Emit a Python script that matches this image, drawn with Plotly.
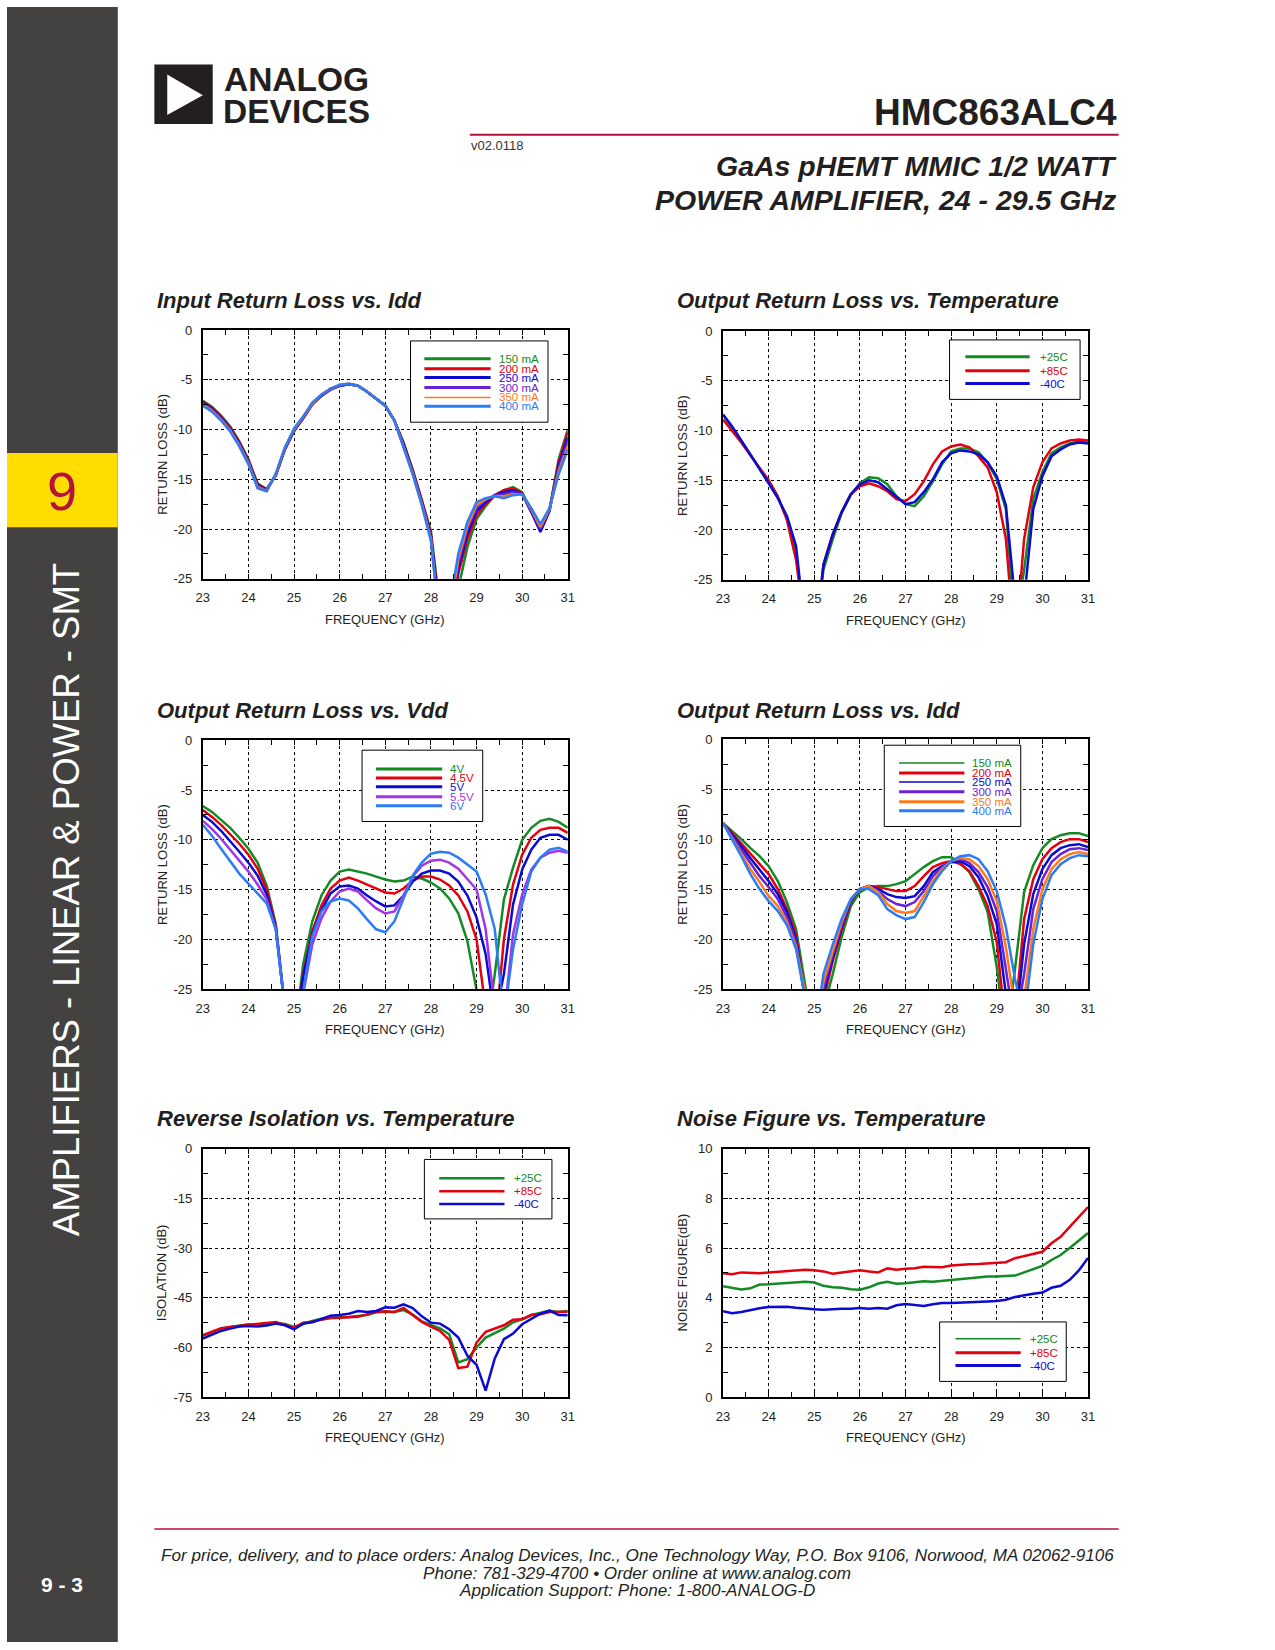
import plotly.graph_objects as go

# page size in px
W, H = 1275, 1650

# frequency points (GHz)
freq = [23.0, 23.2, 23.4, 23.6, 23.8, 24.0, 24.2, 24.4, 24.6, 24.8,
        25.0, 25.2, 25.4, 25.6, 25.8, 26.0, 26.2, 26.4, 26.6, 26.8,
        27.0, 27.2, 27.4, 27.6, 27.8, 28.0, 28.2, 28.4, 28.6, 28.8,
        29.0, 29.2, 29.4, 29.6, 29.8, 30.0, 30.2, 30.4, 30.6, 30.8, 31.0]

# Input Return Loss vs. Idd (dB)
irl_150 = [-7.1, -7.7, -8.6, -9.7, -11.2, -13.0, -15.4, -16.0, -14.6, -12.0, -10.2, -8.9, -7.5, -6.6, -6.0, -5.6, -5.45, -5.6, -6.2, -6.9, -7.6, -9.1, -11.3, -14.0, -17.0, -20.2, -28.0, -32.0, -26.0, -21.8, -19.0, -17.7, -16.6, -16.1, -15.8, -16.3, -18.2, -20.1, -18.0, -13.0, -10.0]
irl_200 = [-7.2, -7.8, -8.7, -9.8, -11.3, -13.1, -15.5, -16.0, -14.6, -12.0, -10.1, -8.9, -7.5, -6.6, -6.0, -5.6, -5.45, -5.6, -6.2, -6.9, -7.6, -9.1, -11.4, -14.1, -17.1, -20.5, -28.5, -32.0, -24.5, -21.0, -18.6, -17.5, -16.6, -16.1, -15.9, -16.4, -18.2, -20.1, -18.1, -13.3, -10.3]
irl_250 = [-7.3, -7.9, -8.8, -9.9, -11.4, -13.2, -15.6, -16.1, -14.6, -11.9, -10.1, -8.8, -7.4, -6.6, -5.9, -5.6, -5.45, -5.6, -6.2, -6.9, -7.6, -9.1, -11.5, -14.2, -17.3, -20.7, -29.0, -31.0, -24.0, -20.5, -18.2, -17.3, -16.6, -16.3, -16.1, -16.5, -18.3, -20.3, -18.2, -13.6, -10.8]
irl_300 = [-7.4, -8.0, -8.9, -10.0, -11.5, -13.3, -15.7, -16.1, -14.5, -11.9, -10.0, -8.8, -7.4, -6.5, -5.9, -5.6, -5.4, -5.6, -6.2, -6.9, -7.6, -9.1, -11.6, -14.3, -17.4, -20.9, -29.5, -30.0, -23.5, -20.0, -17.9, -17.1, -16.6, -16.5, -16.3, -16.5, -18.2, -20.0, -18.0, -13.9, -11.2]
irl_350 = [-7.5, -8.1, -9.0, -10.1, -11.6, -13.4, -15.8, -16.2, -14.5, -11.8, -10.0, -8.7, -7.4, -6.5, -5.9, -5.5, -5.4, -5.6, -6.2, -6.9, -7.6, -9.1, -11.7, -14.4, -17.5, -21.0, -30.0, -29.0, -23.0, -19.7, -17.6, -17.0, -16.7, -16.7, -16.5, -16.5, -18.0, -19.8, -18.0, -14.2, -11.7]
irl_400 = [-7.6, -8.2, -9.1, -10.2, -11.7, -13.5, -15.9, -16.2, -14.4, -11.8, -9.9, -8.7, -7.3, -6.5, -5.9, -5.5, -5.4, -5.6, -6.2, -6.9, -7.6, -9.1, -11.8, -14.5, -17.6, -21.2, -30.0, -28.0, -22.5, -19.3, -17.3, -16.9, -16.7, -16.9, -16.6, -16.5, -17.9, -19.5, -17.9, -14.5, -12.0]

# Output Return Loss vs. Temperature (dB)
ort_p25 = [-8.4, -9.7, -11.0, -12.4, -13.8, -15.2, -16.7, -18.8, -22.3, -30.0, -32.0, -24.0, -21.0, -18.3, -16.5, -15.3, -14.7, -14.8, -15.4, -16.6, -17.4, -17.6, -16.6, -15.1, -13.4, -12.1, -11.8, -11.8, -12.2, -13.2, -14.9, -17.9, -30.0, -24.0, -16.9, -14.2, -12.3, -11.7, -11.3, -11.1, -11.2]
ort_p85 = [-8.9, -10.0, -11.2, -12.5, -13.8, -15.0, -16.6, -19.0, -23.0, -30.0, -32.0, -23.5, -20.5, -18.2, -16.4, -15.6, -15.3, -15.6, -16.1, -16.9, -17.1, -16.4, -15.1, -13.4, -12.1, -11.6, -11.4, -11.7, -12.6, -13.7, -16.2, -20.9, -32.0, -20.9, -15.7, -13.2, -11.8, -11.3, -11.0, -10.9, -11.0]
ort_m40 = [-8.4, -9.6, -11.0, -12.4, -13.9, -15.3, -16.8, -18.6, -21.6, -30.0, -32.0, -23.5, -20.5, -18.2, -16.4, -15.4, -15.0, -15.2, -15.9, -16.7, -17.4, -17.2, -16.2, -14.9, -13.2, -12.3, -12.0, -12.1, -12.4, -13.2, -14.6, -17.5, -27.0, -27.0, -17.9, -14.6, -12.6, -11.9, -11.4, -11.2, -11.3]

# Output Return Loss vs. Vdd (dB)
orv_40 = [-6.6, -7.2, -8.0, -8.8, -9.8, -10.9, -12.3, -14.6, -18.5, -27.0, -30.0, -22.5, -18.2, -15.6, -14.1, -13.2, -13.0, -13.2, -13.4, -13.7, -14.0, -14.2, -14.1, -13.7, -13.9, -14.3, -14.9, -15.9, -17.4, -20.2, -25.5, -30.0, -23.5, -16.0, -12.8, -10.0, -8.8, -8.1, -7.9, -8.2, -8.8]
orv_45 = [-7.0, -7.7, -8.5, -9.4, -10.4, -11.5, -12.9, -15.0, -18.7, -27.0, -30.0, -23.5, -19.2, -16.6, -14.9, -14.1, -13.8, -14.1, -14.5, -14.9, -15.3, -15.4, -14.9, -14.1, -13.7, -13.7, -14.0, -14.6, -15.6, -17.2, -20.0, -27.0, -30.0, -20.0, -14.5, -11.5, -9.8, -9.0, -8.8, -8.8, -9.3]
orv_50 = [-7.5, -8.2, -9.1, -10.1, -11.2, -12.3, -13.6, -15.5, -18.9, -27.0, -30.0, -23.8, -19.5, -17.1, -15.4, -14.7, -14.6, -14.9, -15.6, -16.2, -16.7, -16.6, -15.6, -14.2, -13.4, -13.1, -13.1, -13.4, -14.2, -15.6, -17.8, -21.5, -28.0, -23.5, -16.5, -13.0, -11.0, -9.8, -9.5, -9.5, -10.0]
orv_55 = [-8.1, -8.9, -9.9, -11.0, -12.1, -13.2, -14.5, -16.0, -19.0, -27.0, -30.0, -25.5, -20.5, -17.9, -16.2, -15.2, -14.9, -15.2, -16.1, -16.9, -17.4, -17.2, -15.6, -13.7, -12.6, -12.1, -12.0, -12.3, -12.9, -13.9, -15.0, -19.0, -27.0, -28.0, -19.5, -15.5, -13.0, -11.8, -11.3, -11.1, -11.3]
orv_60 = [-8.5, -9.6, -10.9, -12.2, -13.4, -14.4, -15.4, -16.4, -19.0, -27.0, -30.0, -25.2, -19.7, -17.2, -16.2, -15.9, -16.1, -16.9, -18.0, -19.0, -19.3, -18.2, -15.9, -13.6, -12.3, -11.4, -11.2, -11.3, -11.8, -12.5, -13.2, -15.5, -19.0, -28.0, -21.0, -16.5, -13.2, -11.8, -11.0, -10.8, -11.2]

# Output Return Loss vs. Idd (dB)
ori_150 = [-8.4, -9.2, -10.0, -10.9, -11.7, -12.7, -14.2, -16.3, -19.0, -24.6, -30.0, -27.0, -23.6, -19.8, -16.7, -15.3, -14.8, -14.7, -14.7, -14.5, -14.2, -13.5, -12.8, -12.2, -11.8, -11.8, -12.4, -13.3, -15.0, -17.3, -22.8, -30.0, -23.0, -15.3, -12.6, -10.9, -10.0, -9.6, -9.4, -9.4, -9.7]
ori_200 = [-8.4, -9.4, -10.4, -11.4, -12.4, -13.5, -15.0, -17.0, -19.6, -26.0, -30.0, -26.0, -22.3, -19.1, -16.3, -15.0, -14.7, -14.8, -15.0, -15.2, -15.2, -14.7, -13.7, -12.8, -12.4, -12.2, -12.5, -13.2, -14.7, -16.7, -20.3, -29.0, -28.0, -18.0, -14.0, -12.0, -10.9, -10.3, -10.0, -10.0, -10.3]
ori_250 = [-8.4, -9.5, -10.7, -11.9, -13.0, -14.2, -15.5, -17.3, -20.0, -26.0, -30.0, -25.5, -22.0, -18.8, -16.2, -15.0, -14.7, -15.0, -15.5, -15.8, -15.9, -15.7, -14.7, -13.3, -12.7, -12.3, -12.2, -12.7, -13.8, -15.7, -18.5, -25.5, -29.0, -20.5, -15.5, -13.0, -11.6, -10.9, -10.6, -10.5, -10.8]
ori_300 = [-8.4, -9.7, -11.0, -12.4, -13.7, -14.8, -16.0, -17.8, -20.3, -26.0, -30.0, -25.0, -21.6, -18.6, -16.1, -15.0, -14.7, -15.2, -16.0, -16.5, -16.7, -16.3, -15.2, -13.7, -12.8, -12.2, -12.0, -12.4, -13.3, -14.8, -17.2, -23.0, -29.0, -23.5, -17.0, -14.0, -12.3, -11.5, -11.0, -10.9, -11.1]
ori_350 = [-8.4, -9.9, -11.4, -13.0, -14.3, -15.7, -16.7, -18.3, -20.8, -26.0, -30.0, -24.3, -21.3, -18.3, -16.0, -15.0, -14.7, -15.3, -16.5, -17.2, -17.4, -17.2, -15.7, -14.2, -13.0, -12.2, -11.9, -12.0, -12.7, -14.0, -16.2, -20.8, -27.0, -26.0, -19.0, -15.0, -13.0, -12.0, -11.5, -11.3, -11.5]
ori_400 = [-8.4, -10.0, -11.7, -13.5, -15.0, -16.2, -17.2, -18.6, -21.0, -26.0, -30.0, -23.5, -20.6, -18.0, -16.0, -15.0, -15.0, -15.6, -17.0, -17.6, -18.0, -17.8, -16.3, -14.5, -13.2, -12.2, -11.7, -11.6, -12.0, -13.2, -15.2, -18.8, -24.0, -28.0, -20.5, -16.0, -13.6, -12.5, -11.9, -11.6, -11.7]

# Reverse Isolation vs. Temperature (dB)
iso_p25 = [-56.5, -55.5, -54.3, -53.8, -53.4, -53.0, -53.2, -52.8, -52.7, -52.9, -53.8, -52.8, -52.0, -51.3, -51.0, -50.9, -50.8, -50.4, -50.2, -49.4, -49.2, -49.3, -48.7, -50.1, -52.1, -53.2, -54.2, -56.0, -64.5, -63.5, -60.0, -57.0, -55.7, -54.3, -52.4, -51.5, -50.2, -49.6, -48.9, -49.3, -49.0]
iso_p85 = [-56.3, -55.2, -54.2, -53.8, -53.5, -53.3, -53.0, -52.6, -52.3, -53.2, -54.0, -52.5, -52.2, -51.6, -51.1, -51.0, -50.9, -50.7, -50.0, -49.3, -49.1, -49.3, -48.1, -50.2, -52.3, -53.7, -55.0, -57.7, -66.2, -65.8, -58.5, -55.3, -54.2, -53.3, -51.6, -51.5, -50.2, -50.0, -49.3, -49.3, -49.2]
iso_m40 = [-57.3, -56.2, -55.0, -54.3, -53.7, -53.5, -53.7, -53.4, -52.8, -53.3, -54.5, -52.8, -52.4, -51.4, -50.4, -50.2, -49.8, -49.0, -49.3, -49.0, -47.9, -48.0, -47.0, -48.1, -50.6, -52.5, -52.8, -54.5, -57.0, -62.5, -65.2, -73.0, -63.3, -57.5, -55.8, -53.0, -51.5, -49.8, -48.9, -50.2, -50.3]

# Noise Figure vs. Temperature (dB)
nf_p25 = [4.46, 4.40, 4.33, 4.38, 4.53, 4.54, 4.56, 4.58, 4.62, 4.64, 4.61, 4.48, 4.42, 4.40, 4.34, 4.32, 4.42, 4.57, 4.64, 4.56, 4.58, 4.61, 4.66, 4.64, 4.68, 4.70, 4.74, 4.77, 4.82, 4.85, 4.85, 4.86, 4.89, 5.02, 5.15, 5.28, 5.52, 5.72, 6.00, 6.30, 6.60]
nf_p85 = [4.99, 4.95, 5.02, 4.99, 4.99, 5.02, 5.05, 5.07, 5.11, 5.13, 5.11, 5.06, 4.97, 5.01, 5.07, 5.11, 5.06, 5.02, 5.18, 5.13, 5.17, 5.19, 5.25, 5.23, 5.23, 5.30, 5.34, 5.35, 5.36, 5.38, 5.39, 5.43, 5.59, 5.68, 5.75, 5.85, 6.19, 6.45, 6.85, 7.25, 7.65]
nf_m40 = [3.46, 3.38, 3.43, 3.51, 3.58, 3.63, 3.63, 3.64, 3.60, 3.56, 3.54, 3.52, 3.55, 3.56, 3.56, 3.59, 3.56, 3.59, 3.56, 3.70, 3.75, 3.71, 3.67, 3.74, 3.79, 3.79, 3.80, 3.83, 3.84, 3.85, 3.87, 3.92, 4.03, 4.11, 4.16, 4.21, 4.40, 4.48, 4.72, 5.10, 5.60]

# tick values and their printed labels (plain hyphen, as in the datasheet)
x_ticks = [23, 24, 25, 26, 27, 28, 29, 30, 31]
rl_ticks = [0, -5, -10, -15, -20, -25]
rl_labels = ["0", "-5", "-10", "-15", "-20", "-25"]
iso_ticks = [0, -15, -30, -45, -60, -75]
iso_labels = ["0", "-15", "-30", "-45", "-60", "-75"]
nf_ticks = [0, 2, 4, 6, 8, 10]
nf_labels = ["0", "2", "4", "6", "8", "10"]

GREEN = "#138a24"
RED = "#e3000f"
BLUE = "#0a0ad2"
PURPLE = "#6a22d6"
VIOLET = "#a435e6"
ORANGE = "#ff7a1a"
LBLUE = "#2c7cf6"
INK = "#231f20"
CRIMSON = "#b4123b"
FONT = "Liberation Sans, Arial, Helvetica, sans-serif"


def fx(x):
    return x / W


def fy(y):
    return 1 - y / H


charts = [
    dict(title="Input Return Loss vs. Idd", plot=(198, 326, 567, 577), tpos=(150, 296),
         yrange=[-25, 0], yticks=(rl_ticks, rl_labels), minor=2.5, ytitle="RETURN LOSS (dB)",
         series=[("150 mA", irl_150, GREEN), ("200 mA", irl_200, RED), ("250 mA", irl_250, BLUE),
                 ("300 mA", irl_300, PURPLE), ("350 mA", irl_350, ORANGE), ("400 mA", irl_400, LBLUE)],
         lw=[3, 3, 3, 3, 1.5, 3],
         legbox=(408, 337, 547, 419), legline=(422, 489), legtext=495,
         legy=[355, 365, 374, 384, 394, 403]),
    dict(title="Output Return Loss vs. Temperature", plot=(724, 327, 1093, 578), tpos=(675, 296),
         yrange=[-25, 0], yticks=(rl_ticks, rl_labels), minor=2.5, ytitle="RETURN LOSS (dB)",
         series=[("+25C", ort_p25, GREEN), ("+85C", ort_p85, RED), ("-40C", ort_m40, BLUE)],
         lw=[3, 3, 3],
         legbox=(953, 336, 1085, 396), legline=(969, 1034), legtext=1042,
         legy=[353, 367, 380]),
    dict(title="Output Return Loss vs. Vdd", plot=(198, 740, 567, 991), tpos=(150, 710),
         yrange=[-25, 0], yticks=(rl_ticks, rl_labels), minor=2.5, ytitle="RETURN LOSS (dB)",
         series=[("4V", orv_40, GREEN), ("4.5V", orv_45, RED), ("5V", orv_50, BLUE),
                 ("5.5V", orv_55, VIOLET), ("6V", orv_60, LBLUE)],
         lw=[3, 3, 3, 3, 3],
         legbox=(359, 750, 481, 822), legline=(373, 440), legtext=446,
         legy=[769, 778, 787, 797, 806]),
    dict(title="Output Return Loss vs. Idd", plot=(724, 739, 1093, 991), tpos=(675, 710),
         yrange=[-25, 0], yticks=(rl_ticks, rl_labels), minor=2.5, ytitle="RETURN LOSS (dB)",
         series=[("150 mA", ori_150, GREEN), ("200 mA", ori_200, RED), ("250 mA", ori_250, BLUE),
                 ("300 mA", ori_300, PURPLE), ("350 mA", ori_350, ORANGE), ("400 mA", ori_400, LBLUE)],
         lw=[1.5, 3, 1.5, 3, 3, 3],
         legbox=(887, 745, 1025, 827), legline=(902, 968), legtext=974,
         legy=[763, 773, 782, 792, 802, 811]),
    dict(title="Reverse Isolation vs. Temperature", plot=(198, 1152, 567, 1403), tpos=(150, 1122),
         yrange=[-75, 0], yticks=(iso_ticks, iso_labels), minor=7.5, ytitle="ISOLATION (dB)",
         series=[("+25C", iso_p25, GREEN), ("+85C", iso_p85, RED), ("-40C", iso_m40, BLUE)],
         lw=[2.5, 2.5, 2.5],
         legbox=(422, 1163, 551, 1223), legline=(437, 503), legtext=511,
         legy=[1182, 1195, 1208]),
    dict(title="Noise Figure vs. Temperature", plot=(724, 1152, 1093, 1403), tpos=(675, 1122),
         yrange=[0, 10], yticks=(nf_ticks, nf_labels), minor=1, ytitle="NOISE FIGURE(dB)",
         series=[("+25C", nf_p25, GREEN), ("+85C", nf_p85, RED), ("-40C", nf_m40, BLUE)],
         lw=[1.5, 3, 3],
         legbox=(943, 1327, 1071, 1387), legline=(959, 1025), legtext=1032,
         legy=[1344, 1358, 1371]),
]

fig = go.Figure()
shapes = []
annotations = []

# page furniture: side bar, tab, logo, rules
shapes.append(dict(type="rect", xref="paper", yref="paper", x0=0, x1=fx(112), y0=0, y1=1,
                   fillcolor="#434240", line=dict(width=0), layer="below"))
shapes.append(dict(type="rect", xref="paper", yref="paper", x0=0, x1=fx(112), y0=fy(525), y1=fy(450),
                   fillcolor="#ffdd00", line=dict(width=0), layer="below"))
shapes.append(dict(type="rect", xref="paper", yref="paper", x0=fx(149), x1=fx(208), y0=fy(118), y1=fy(58),
                   fillcolor=INK, line=dict(width=0)))
shapes.append(dict(type="path", xref="paper", yref="paper",
                   path="M %f %f L %f %f L %f %f Z" % (fx(162), fy(68), fx(162), fy(109), fx(198), fy(89)),
                   fillcolor="white", line=dict(width=0)))
shapes.append(dict(type="line", xref="paper", yref="paper", x0=fx(468), x1=fx(1124), y0=fy(129), y1=fy(129),
                   line=dict(color=CRIMSON, width=2)))
shapes.append(dict(type="line", xref="paper", yref="paper", x0=fx(149), x1=fx(1124), y0=fy(1536), y1=fy(1536),
                   line=dict(color=CRIMSON, width=1.5)))


def page_text(text, x, y, size, color=INK, xanchor="left", bold=False, italic=False, angle=0):
    annotations.append(dict(text=text, x=fx(x), y=fy(y), xref="paper", yref="paper",
                            xanchor=xanchor, yanchor="middle", showarrow=False, textangle=angle,
                            font=dict(family=FONT, size=size, color=color,
                                      weight="bold" if bold else "normal",
                                      style="italic" if italic else "normal")))


# logo word mark: one text block, tight line pitch from the small base size
page_text('<span style="font-size:33.5px">ANALOG</span><br>'
          '<span style="font-size:33.5px">DEVICES</span>', 216, 89, 24.6, bold=True)
page_text("HMC863ALC4", 1124, 106, 37, xanchor="right", bold=True)
page_text("v02.0118", 467, 140, 13, color="#333333")
page_text("GaAs pHEMT MMIC 1/2 WATT", 1124, 160, 28.5, xanchor="right", bold=True, italic=True)
page_text("POWER AMPLIFIER, 24 - 29.5 GHz", 1124, 195, 28.5, xanchor="right", bold=True, italic=True)
page_text("9", 56, 488, 54, color=CRIMSON, xanchor="center")
page_text("AMPLIFIERS - LINEAR &amp; POWER - SMT", 60, 901, 36.5, color="white", xanchor="center", angle=-90)
page_text("9 - 3", 56, 1592, 21, color="white", xanchor="center", bold=True)
page_text("For price, delivery, and to place orders: Analog Devices, Inc., One Technology Way, P.O. Box 9106, Norwood, MA 02062-9106",
          637, 1563, 17.1, xanchor="center", italic=True)
page_text("Phone: 781-329-4700 • Order online at www.analog.com", 637, 1581, 17.1, xanchor="center", italic=True)
page_text("Application Support: Phone: 1-800-ANALOG-D", 637, 1598, 17.1, xanchor="center", italic=True)

axis_font = dict(family=FONT, size=13, color=INK)
layout_axes = {}

for i, c in enumerate(charts, start=1):
    xa = "xaxis" if i == 1 else "xaxis%d" % i
    ya = "yaxis" if i == 1 else "yaxis%d" % i
    xr = "x" if i == 1 else "x%d" % i
    yr = "y" if i == 1 else "y%d" % i
    x0, y0, x1, y1 = c["plot"]

    for name, vals, color in c["series"]:
        fig.add_trace(go.Scatter(x=freq, y=vals, name=name, mode="lines",
                                 line=dict(color=color, width=2.5),
                                 xaxis=xr, yaxis=yr, showlegend=False))

    common = dict(showline=True, linecolor="black", linewidth=2, mirror="ticks",
                  showgrid=True, gridcolor="black", gridwidth=1, griddash="3px,3px",
                  zeroline=False, ticks="inside", ticklen=5, tickcolor="black",
                  tickfont=axis_font, ticklabelstandoff=6)
    layout_axes[xa] = dict(common, domain=[fx(x0), fx(x1)], anchor=yr, range=[23, 31],
                           tickmode="array", tickvals=x_ticks, ticktext=[str(t) for t in x_ticks],
                           minor=dict(tickmode="linear", dtick=0.5, tick0=23, ticks="inside",
                                      ticklen=5, tickcolor="black", showgrid=False))
    layout_axes[ya] = dict(common, domain=[fy(y1), fy(y0)], anchor=xr, range=c["yrange"],
                           tickmode="array", tickvals=c["yticks"][0], ticktext=c["yticks"][1],
                           minor=dict(tickmode="linear", dtick=c["minor"], tick0=0, ticks="inside",
                                      ticklen=5, tickcolor="black", showgrid=False))

    # chart heading and axis titles
    page_text(c["title"], c["tpos"][0], c["tpos"][1], 22, bold=True, italic=True)
    page_text("FREQUENCY (GHz)", (x0 + x1) / 2, y1 + 41, 13, xanchor="center")
    page_text(c["ytitle"], x0 - 41, (y0 + y1) / 2, 13, xanchor="center", angle=-90)

    # boxed key
    bx0, by0, bx1, by1 = c["legbox"]
    shapes.append(dict(type="rect", xref="paper", yref="paper", x0=fx(bx0), x1=fx(bx1),
                       y0=fy(by1), y1=fy(by0), fillcolor="white", line=dict(color="black", width=1)))
    for (name, vals, color), w, ly in zip(c["series"], c["lw"], c["legy"]):
        shapes.append(dict(type="line", xref="paper", yref="paper", x0=fx(c["legline"][0]),
                           x1=fx(c["legline"][1]), y0=fy(ly), y1=fy(ly), line=dict(color=color, width=w)))
        page_text(name, c["legtext"], ly, 11.5, color=color)

fig.update_layout(
    width=W, height=H, margin=dict(l=0, r=0, t=0, b=0),
    paper_bgcolor="white", plot_bgcolor="white",
    showlegend=False, shapes=shapes, annotations=annotations,
    font=dict(family=FONT, color=INK),
    **layout_axes
)

# pin the sheet to the window corner (no browser body margin)
page_css = ("document.documentElement.style.margin='0';document.documentElement.style.padding='0';"
            "document.body.style.margin='0';document.body.style.padding='0';"
            "document.body.style.overflow='hidden';"
            "var gd=document.getElementById('{plot_id}');gd.style.position='absolute';"
            "gd.style.left='0px';gd.style.top='0px';")

fig.write_html("out.html", config={"displayModeBar": False}, post_script=page_css)
